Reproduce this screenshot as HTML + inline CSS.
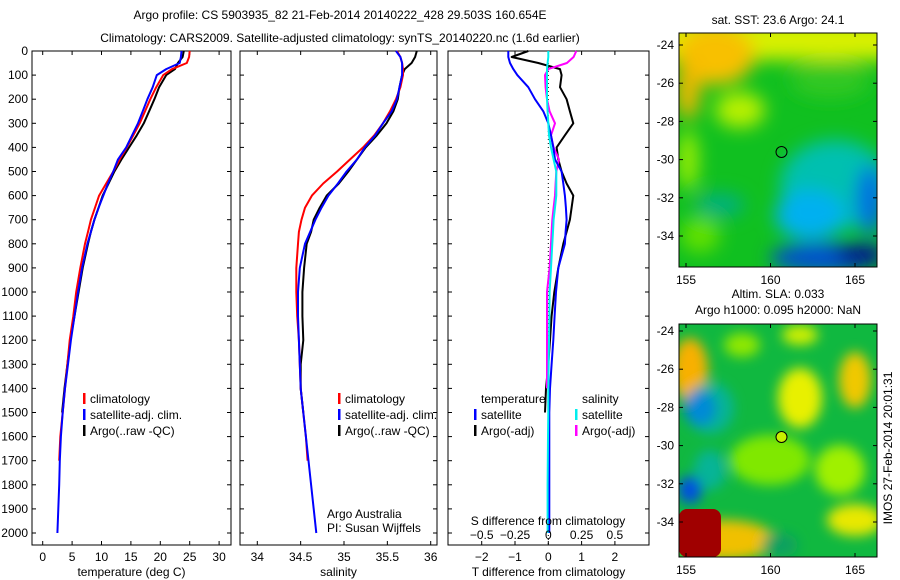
<!DOCTYPE html>
<html><head><meta charset="utf-8"><style>
body{margin:0;background:#fff;}
svg{display:block;font-family:"Liberation Sans",sans-serif;}
text{font-size:12px;fill:#000;}
</style></head><body>
<svg id="chart" width="900" height="580" viewBox="0 0 900 580">
<defs>
<filter id="bl" x="-50%" y="-50%" width="200%" height="200%"><feGaussianBlur stdDeviation="9"/></filter>
<filter id="bl2" x="-50%" y="-50%" width="200%" height="200%"><feGaussianBlur stdDeviation="6"/></filter>
<clipPath id="c1"><rect x="679" y="33" width="198" height="234"/></clipPath>
<clipPath id="c2"><rect x="679" y="324" width="198" height="233"/></clipPath>
</defs>
<text x="340" y="19" text-anchor="middle" font-size="13">Argo profile: CS 5903935_82 21-Feb-2014 20140222_428 29.503S 160.654E</text>
<text x="340" y="42" text-anchor="middle" font-size="13">Climatology: CARS2009. Satellite-adjusted climatology: synTS_20140220.nc (1.6d earlier)</text>

<g id="p1"></g>
<g id="p2"></g>
<g id="p3"></g>

<g>
<text x="778" y="24" text-anchor="middle">sat. SST: 23.6 Argo: 24.1</text>
<g clip-path="url(#c1)">
<rect x="679" y="33" width="198" height="234" fill="#10c020"/>
<g filter="url(#bl)">
<rect x="660" y="20" width="240" height="40" fill="#d8f000"/>
<ellipse cx="715" cy="55" rx="40" ry="30" fill="#f8c000"/>
<ellipse cx="688" cy="90" rx="12" ry="30" fill="#f0b800"/>
<ellipse cx="740" cy="110" rx="25" ry="18" fill="#b8f000"/>
<ellipse cx="688" cy="160" rx="10" ry="30" fill="#a0f000"/>
<ellipse cx="830" cy="80" rx="40" ry="18" fill="#30c820"/>
<ellipse cx="835" cy="185" rx="55" ry="45" fill="#00c0b0"/>
<ellipse cx="810" cy="215" rx="35" ry="25" fill="#00b0f0"/>
<ellipse cx="870" cy="200" rx="14" ry="35" fill="#0070e0"/>
<ellipse cx="825" cy="258" rx="55" ry="15" fill="#0050d0"/>
<ellipse cx="862" cy="255" rx="25" ry="12" fill="#001890"/>
<ellipse cx="700" cy="235" rx="20" ry="18" fill="#60e000"/>
<ellipse cx="720" cy="205" rx="25" ry="12" fill="#00b080"/>
</g>
</g>
<rect x="679" y="33" width="198" height="234" fill="none" stroke="#000"/>
<circle cx="781.5" cy="152" r="5.5" fill="none" stroke="#000"/>
<g id="m1ticks"></g>
</g>

<g>
<text x="778" y="298" text-anchor="middle">Altim. SLA: 0.033</text>
<text x="778" y="314" text-anchor="middle">Argo h1000: 0.095 h2000: NaN</text>
<g clip-path="url(#c2)">
<rect x="679" y="324" width="198" height="233" fill="#10b840"/>
<g filter="url(#bl2)">
<ellipse cx="690" cy="370" rx="18" ry="32" fill="#f8b000"/>
<ellipse cx="800" cy="398" rx="22" ry="30" fill="#e8f000"/>
<ellipse cx="855" cy="380" rx="16" ry="28" fill="#f0c800"/>
<ellipse cx="800" cy="335" rx="18" ry="10" fill="#d0f000"/>
<ellipse cx="742" cy="345" rx="18" ry="12" fill="#90e800"/>
<ellipse cx="770" cy="460" rx="40" ry="25" fill="#80e800"/>
<ellipse cx="840" cy="470" rx="25" ry="25" fill="#a0f000"/>
<ellipse cx="700" cy="408" rx="16" ry="18" fill="#0050e0"/>
<ellipse cx="710" cy="408" rx="24" ry="26" fill="#00b0d0" opacity="0.6"/>
<ellipse cx="690" cy="490" rx="12" ry="14" fill="#0050e0"/>
<ellipse cx="710" cy="470" rx="16" ry="20" fill="#00b0d0" opacity="0.6"/>
<ellipse cx="725" cy="540" rx="50" ry="20" fill="#f0c000"/>
<ellipse cx="855" cy="520" rx="28" ry="16" fill="#e8e800"/>
<ellipse cx="780" cy="545" rx="18" ry="12" fill="#10a060"/>
</g>
<rect x="679" y="509" width="42" height="48" fill="#a00000" rx="8"/>
</g>
<rect x="679" y="324" width="198" height="233" fill="none" stroke="#000"/>
<circle cx="781.5" cy="437" r="5.5" fill="#c8f000" stroke="#000"/>
<g id="m2ticks"></g>
</g>
<text transform="translate(892,448) rotate(-90)" text-anchor="middle" font-size="12">IMOS 27-Feb-2014 20:01:31</text>
</svg>
<script>
const depths=[0,25,50,75,100,150,200,250,300,350,400,450,500,550,600,650,700,750,800,900,1000,1100,1200,1300,1400,1500,1600,1700,1800,1900,2000];
const tempClim=[25,24.9,24.5,22,20.5,19.3,18.3,17.4,16.5,15.4,14.3,13.1,12,10.8,9.6,8.9,8.2,7.7,7.2,6.4,5.7,5.2,4.6,4.2,3.8,3.4,3.0,2.8,null,null,null];
const tempSat=[23.6,23.5,23.3,21,19.4,18.7,17.8,17.0,16.2,15.2,14.2,12.8,12.0,11.1,10.3,9.5,8.8,8.2,7.6,6.7,6.0,5.4,4.8,4.3,3.8,3.4,3.1,2.9,2.8,2.65,2.5];
const tempArgo=[24,23.8,23,22.5,21,19.8,19,18.1,17.2,16.0,14.7,13.4,12.2,11.2,10.2,9.5,8.8,8.2,7.7,6.8,6.1,5.4,4.7,4.2,3.7,3.3,null,null,null,null,null];
const salClim=[35.61,35.65,35.67,35.68,35.68,35.65,35.6,35.53,35.45,35.35,35.22,35.07,34.92,34.76,34.63,34.55,34.51,34.48,34.47,34.45,34.45,34.46,34.48,34.49,34.5,34.53,34.56,34.58,null,null,null];
const salSat=[35.6,35.65,35.67,35.67,35.67,35.64,35.61,35.55,35.45,35.36,35.24,35.15,35.03,34.93,34.82,34.74,34.67,34.61,34.55,34.49,34.47,34.47,34.48,34.49,34.5,34.53,34.56,34.59,34.62,34.65,34.68];
const salArgo=[35.84,35.82,35.78,35.7,35.67,35.64,35.62,35.57,35.49,35.38,35.25,35.15,35.05,34.94,34.8,34.72,34.65,34.62,34.57,34.54,34.52,34.52,34.53,34.5,34.5,34.53,null,null,null,null,null];
const tDiffSat=[-1.2,-1.2,-1.15,-1.05,-0.93,-0.6,-0.4,-0.15,0,0.08,0.15,0.2,0.4,0.45,0.5,0.53,0.55,0.52,0.5,0.3,0.23,0.19,0.15,0.1,0.05,0.03,0.03,0.03,0.03,0.03,0.03];
const tDiffArgo=[-0.6,-1.1,-0.3,0.35,0.4,0.35,0.55,0.65,0.75,0.5,0.25,0.3,0.4,0.55,0.75,0.7,0.65,0.55,0.45,0.3,0.18,0.1,0.05,0.0,-0.07,-0.1,null,null,null,null,null];
const sDiffSat=[0,0,-0.005,-0.01,-0.01,-0.01,-0.01,-0.005,0,0.005,0.02,0.04,0.06,0.06,0.06,0.05,0.04,0.035,0.03,0.02,0.01,0.008,0.005,0.003,0,0,-0.002,-0.004,-0.005,-0.005,-0.005];
const sDiffArgo=[0.21,0.19,0.14,0.0,-0.025,-0.02,-0.01,0.01,0.05,0.02,0.04,0.08,0.06,0.055,0.05,0.04,0.03,0.025,0.02,0.01,-0.01,-0.01,-0.01,-0.01,-0.01,null,null,null,null,null,null];
const depthTicks=[0,100,200,300,400,500,600,700,800,900,1000,1100,1200,1300,1400,1500,1600,1700,1800,1900,2000];
const tempTicks=[0,5,10,15,20,25,30];
const salTicks=[34,34.5,35,35.5,36];
const salTickLabels=["34","34.5","35","35.5","36"];
const tdTicks=[-2,-1,0,1,2];
const sdTicks=[-0.5,-0.25,0,0.25,0.5];
const sdTickLabels=["\u22120.5","\u22120.25","0","0.25","0.5"];
const lonTicks=[155,160,165];
const latTicks=[-24,-26,-28,-30,-32,-34];

const NS='http://www.w3.org/2000/svg';
function el(parent,tag,attrs,txt){const e=document.createElementNS(NS,tag);for(const k in attrs)e.setAttribute(k,attrs[k]);if(txt!=null)e.textContent=txt;parent.appendChild(e);return e;}
const yD=d=>51+d*0.241;
const TOP=51,BOT=545;

function panel(g,x0,x1,xs,ticks,labels,xlabel){
  const fr=el(g,'rect',{x:x0,y:TOP,width:x1-x0,height:BOT-TOP,fill:'none',stroke:'#000'});
  
  
  depthTicks.forEach(d=>{
    el(g,'line',{x1:x0,x2:x0+4,y1:yD(d),y2:yD(d),stroke:'#000'});
    el(g,'line',{x1:x1-4,x2:x1,y1:yD(d),y2:yD(d),stroke:'#000'});
  });
  ticks.forEach((t,i)=>{
    const x=xs(t);
    el(g,'line',{x1:x,x2:x,y1:BOT,y2:BOT-4,stroke:'#000'});
    el(g,'line',{x1:x,x2:x,y1:TOP,y2:TOP+4,stroke:'#000'});
    const tl=el(g,'text',{x:x,y:561,'text-anchor':'middle'},labels[i]);
    
    
  });
  const xl=el(g,'text',{x:(x0+x1)/2,y:576,'text-anchor':'middle'},xlabel);
  
  
}
function line(g,xs,vals,color,w,name){
  let d='',pen=false;
  depths.forEach((dp,i)=>{const v=vals[i];if(v==null){pen=false;return;}d+=(pen?'L':'M')+xs(v).toFixed(1)+','+yD(dp).toFixed(1);pen=true;});
  const p=el(g,'path',{d:d,fill:'none',stroke:color,'stroke-width':w,'stroke-linejoin':'round'});
  
  
}
function legend(g,x,y,items){
  items.forEach((it,i)=>{
    if(it.c) el(g,'rect',{x:x,y:y+i*16-10,width:2.5,height:11,fill:it.c});
    const t=el(g,'text',{x:x+7,y:y+i*16},it.t);
    
    
  });
}

const p1=document.getElementById('p1');
const xT=v=>42.7+v*5.88;
panel(p1,32,231,xT,tempTicks,tempTicks.map(String),'temperature (deg C)');
depthTicks.forEach(d=>{const t=el(p1,'text',{x:28,y:yD(d)+4,'text-anchor':'end'},String(d));
  
  });
line(p1,xT,tempArgo,'#000',2,'temp-argo-line');
line(p1,xT,tempClim,'#f00',2,'temp-climatology-line');
line(p1,xT,tempSat,'#00f',2,'temp-satellite-line');
legend(p1,83,403,[{c:'#f00',t:'climatology'},{c:'#00f',t:'satellite-adj. clim.'},{c:'#000',t:'Argo(..raw -QC)'}]);

const p2=document.getElementById('p2');
const xS=v=>257.3+(v-34)*86.7;
panel(p2,240,437,xS,salTicks,salTickLabels,'salinity');
line(p2,xS,salArgo,'#000',2,'sal-argo-line');
line(p2,xS,salClim,'#f00',2,'sal-climatology-line');
line(p2,xS,salSat,'#00f',2,'sal-satellite-line');
legend(p2,338,403,[{c:'#f00',t:'climatology'},{c:'#00f',t:'satellite-adj. clim.'},{c:'#000',t:'Argo(..raw -QC)'}]);
let t1=el(p2,'text',{x:327,y:518},'Argo Australia');


let t2=el(p2,'text',{x:327,y:532},'PI: Susan Wijffels');



const p3=document.getElementById('p3');
const xTd=v=>548.3+v*33.3;
const xSd=v=>548.3+v*4*33.3;
panel(p3,448,649,xTd,tdTicks,tdTicks.map(v=>v<0?'\u2212'+(-v):String(v)),'T difference from climatology');
el(p3,'line',{x1:548.3,x2:548.3,y1:TOP,y2:BOT,stroke:'#000','stroke-dasharray':'1,3'});
line(p3,xTd,tDiffArgo,'#000',2,'tdiff-argo-line');
line(p3,xSd,sDiffArgo,'#f0f',2,'sdiff-argo-line');
line(p3,xTd,tDiffSat,'#00f',2,'tdiff-satellite-line');
line(p3,xSd,sDiffSat,'#0ee',2,'sdiff-satellite-line');
legend(p3,474,403,[{c:null,t:'temperature'},{c:'#00f',t:'satellite'},{c:'#000',t:'Argo(-adj)'}]);
legend(p3,575,403,[{c:null,t:'salinity'},{c:'#0ee',t:'satellite'},{c:'#f0f',t:'Argo(-adj)'}]);
let st=el(p3,'text',{x:548,y:525,'text-anchor':'middle'},'S difference from climatology');


sdTicks.forEach((v,i)=>{const t=el(p3,'text',{x:xSd(v),y:539,'text-anchor':'middle'},sdTickLabels[i]);
  
  });

function mapTicks(id,y0,y1,latTop){
  const g=document.getElementById(id);
  const xL=v=>686+(v-155)*16.9, yL=v=>latTop+(-24-v)*19.1;
  lonTicks.forEach(v=>{el(g,'line',{x1:xL(v),x2:xL(v),y1:y1,y2:y1-4,stroke:'#000'});el(g,'line',{x1:xL(v),x2:xL(v),y1:y0,y2:y0+4,stroke:'#000'});
    const t=el(g,'text',{x:xL(v),y:y1+17,'text-anchor':'middle'},String(v));
    
    });
  latTicks.forEach(v=>{el(g,'line',{x1:679,x2:683,y1:yL(v),y2:yL(v),stroke:'#000'});el(g,'line',{x1:873,x2:877,y1:yL(v),y2:yL(v),stroke:'#000'});
    const t=el(g,'text',{x:674,y:yL(v)+4,'text-anchor':'end'},'-'+(-v));
    
    });
}
mapTicks('m1ticks',33,267,45);
mapTicks('m2ticks',324,557,331);
</script>
</body></html>
